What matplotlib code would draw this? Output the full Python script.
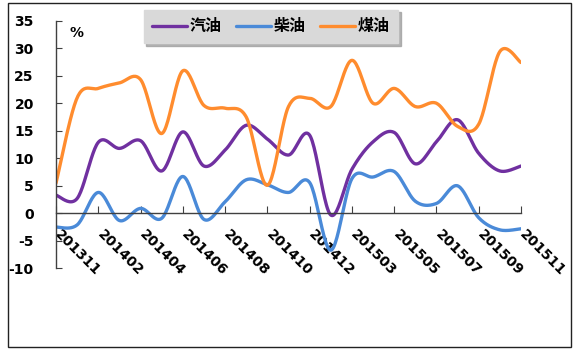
import numpy as np
import matplotlib
matplotlib.use('Agg')
import matplotlib.pyplot as plt
import matplotlib.transforms as mtransforms
from matplotlib.patches import Rectangle

months = ['201311', '201312', '201402', '201403', '201404', '201405', '201406',
          '201407', '201408', '201409', '201410', '201411', '201412', '201502',
          '201503', '201504', '201505', '201506', '201507', '201508', '201509',
          '201510', '201511']
gasoline = [3.3, 2.7, 12.9, 11.8, 13.2, 7.7, 14.8, 8.6, 11.5, 16.0, 13.5, 10.6,
            14.2, -0.3, 8.0, 13.0, 14.7, 9.0, 13.0, 17.0, 10.9, 7.7, 8.6]
diesel = [-2.5, -2.1, 3.8, -1.3, 0.9, -0.9, 6.7, -1.1, 2.1, 6.1, 5.2, 3.8,
          5.6, -6.7, 6.3, 6.6, 7.6, 2.2, 1.8, 5.0, -0.8, -3.0, -2.8]
kerosene = [5.5, 21.0, 22.7, 23.7, 24.3, 14.5, 25.9, 19.6, 19.1, 17.5, 5.1, 19.4,
            20.9, 19.4, 27.8, 20.0, 22.7, 19.4, 20.0, 15.8, 16.2, 29.4, 27.4]
series_names = ['汽油', '柴油', '煤油']
yticks = [-10, -5, 0, 5, 10, 15, 20, 25, 30, 35]

colors = ['#7030A0', '#4A8AD8', '#FF8C2E']

plt.rcParams['font.family'] = ['DejaVu Sans']


def smooth(y, n=24):
    """Catmull-Rom spline through the data points (like Excel smoothed lines)."""
    y = np.asarray(y, float)
    x = np.arange(len(y), dtype=float)
    P = np.concatenate([[y[0]], y, [y[-1]]])
    X = np.concatenate([[x[0]], x, [x[-1]]])
    xs, ys = [], []
    t = np.linspace(0, 1, n, endpoint=False)
    for i in range(1, len(P) - 2):
        p0, p1, p2, p3 = P[i - 1], P[i], P[i + 1], P[i + 2]
        q0, q1, q2, q3 = X[i - 1], X[i], X[i + 1], X[i + 2]
        def cr(a0, a1, a2, a3):
            return 0.5 * ((2 * a1) + (-a0 + a2) * t + (2 * a0 - 5 * a1 + 4 * a2 - a3) * t ** 2
                          + (-a0 + 3 * a1 - 3 * a2 + a3) * t ** 3)
        xs.append(cr(q0, q1, q2, q3))
        ys.append(cr(p0, p1, p2, p3))
    xs.append([x[-1]])
    ys.append([y[-1]])
    return np.concatenate(xs), np.concatenate(ys)


fig = plt.figure(figsize=(5.79, 3.56), dpi=100)
ax = fig.add_axes([56 / 579, 1 - 268.4 / 356, (521 - 56) / 579, (268.4 - 20.7) / 356])

handles = []
for vals, name, c in zip([gasoline, diesel, kerosene], series_names, colors):
    xs, ys = smooth(vals)
    h, = ax.plot(xs, ys, color=c, lw=2.4, solid_capstyle='round', label=name)
    handles.append(h)

ax.set_xlim(0, len(months) - 1)
ax.set_ylim(-10, 35)

for s in ['top', 'right']:
    ax.spines[s].set_visible(False)
ax.spines['bottom'].set_position(('data', 0))
ax.spines['bottom'].set_color('#404040')
ax.spines['left'].set_color('#404040')
ax.spines['bottom'].set_linewidth(1)
ax.spines['left'].set_linewidth(1)
ax.tick_params(axis='y', direction='in', length=4, pad=16, color='#404040')
ax.tick_params(axis='x', direction='in', length=5, pad=5, color='#404040')

ax.set_yticks(yticks)
ax.set_yticklabels([str(v) for v in yticks], fontsize=10, fontweight='bold')
ax.set_xticks(range(0, len(months), 2))
ax.set_xticklabels(months[::2], fontsize=10, fontweight='bold')
offset = mtransforms.ScaledTranslation(6 / 100, -7 / 100, fig.dpi_scale_trans)
for lbl in ax.get_xticklabels():
    lbl.set_rotation(-45)
    lbl.set_rotation_mode('anchor')
    lbl.set_ha('left')
    lbl.set_va('top')
    lbl.set_transform(lbl.get_transform() + offset)

ax.text(0.03, 0.98, '%', transform=ax.transAxes, fontsize=10, fontweight='bold',
        ha='left', va='top')

leg = fig.legend(handles=handles, labels=series_names, loc='center',
                 bbox_to_anchor=(271 / 579, 1 - 26.5 / 356), ncol=3,
                 frameon=True, facecolor='#D9D9D9', edgecolor='#D9D9D9',
                 shadow={'color': '#A0A0A0', 'alpha': 0.8}, fancybox=False,
                 handlelength=2.2, handletextpad=0.15,
                 columnspacing=0.9, borderpad=0.55,
                 prop={'family': ['Noto Sans CJK SC', 'DejaVu Sans'], 'weight': 'bold', 'size': 11.5})
leg.get_frame().set_alpha(1)

fig.patches.append(Rectangle((8 / 579, 1 - 347 / 356), 562.5 / 579, 344 / 356,
                             transform=fig.transFigure, fill=False, ec='#222222', lw=1))

fig.savefig('out.png', dpi=100)
